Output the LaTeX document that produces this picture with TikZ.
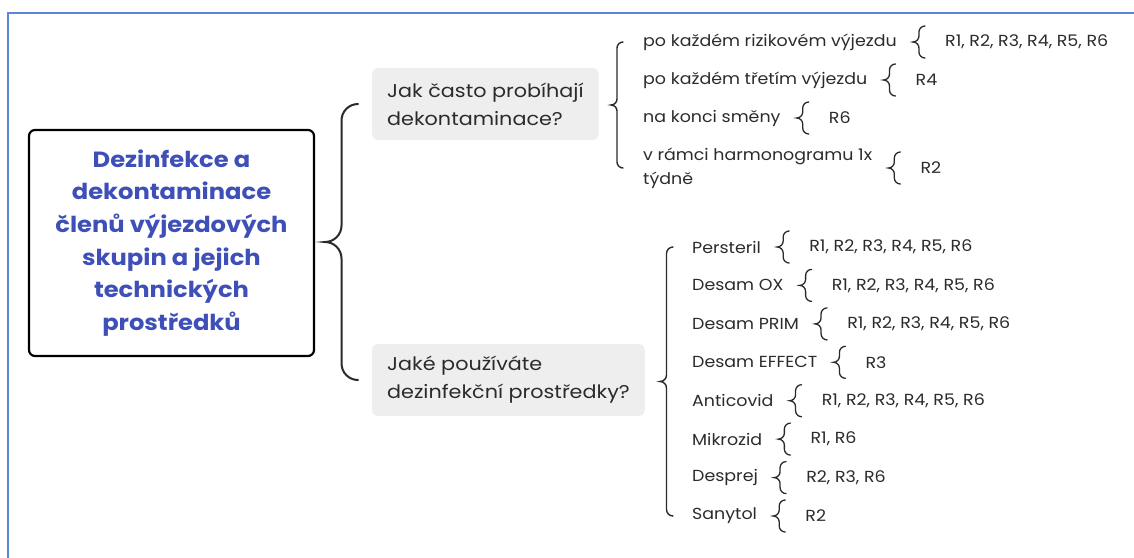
\documentclass[tikz,border=0pt]{standalone}
\usepackage{fontspec}
\setmainfont{Poppins}
\newfontfamily\rootfnt[FakeStretch=1.1]{Poppins}
\newfontfamily\qfnt[FakeStretch=1.12]{Poppins}
\newfontfamily\itfnt[FakeStretch=1.09]{Poppins}
\usetikzlibrary{calc}
\definecolor{frameblue}{HTML}{5B85D8}
\definecolor{rootblue}{HTML}{3F4FB8}
\definecolor{qgray}{HTML}{EEEEEE}
\definecolor{txt}{HTML}{2B2B2B}
\definecolor{brc}{HTML}{2A2A2A}
% curly brace: #1 top end, #2 bottom end, #3 curl radius, #4 style
\newcommand\curlybr[4]{%
  \draw[#4] (#1) .. controls +(-0.55*#3,0) and +(0,0.55*#3) .. ++(-#3,-#3)
    -- ($(#1)!0.5!(#2)+(-#3,#3)$)
    .. controls +(0,-0.55*#3) and +(0.55*#3,0) .. ($(#1)!0.5!(#2)+(-2*#3,0)$)
    .. controls +(0.55*#3,0) and +(0,0.55*#3) .. ($(#1)!0.5!(#2)+(-#3,-#3)$)
    -- ($(#2)+(-#3,#3)$)
    .. controls +(0,-0.55*#3) and +(-0.55*#3,0) .. (#2);}
\newcommand\sbrace[2]{%
  \coordinate (#1t) at ($(#1.east)+(28,16)$);
  \coordinate (#1b) at ($(#1.east)+(28,-16)$);
  \curlybr{#1t}{#1b}{6}{smallbr}
  \node[item] (#1r) at ($(#1.east)+(48,0)$) {#2};}
\begin{document}
\begin{tikzpicture}[x=1pt,y=1pt,
  root/.style={draw=black, line width=2.2pt, rounded corners=6pt,
    minimum width=285pt, minimum height=226pt, align=center, text=rootblue,
    font=\rootfnt\fontsize{22}{32.6}\selectfont\bfseries, inner sep=0pt},
  qbox/.style={fill=qgray, rounded corners=6pt, anchor=west, align=left,
    text=txt, font=\qfnt\fontsize{18.5}{28}\selectfont, inner xsep=15pt,
    inner ysep=0pt, minimum height=72pt},
  item/.style={anchor=west, inner sep=0pt, text=txt,
    font=\itfnt\fontsize{16}{24}\selectfont, align=left},
  bigbr/.style={draw=brc, line width=2pt, line cap=round},
  midbr/.style={draw=brc, line width=1.4pt, line cap=round},
  smallbr/.style={draw=brc, line width=1.3pt, line cap=round},
]
\useasboundingbox (0,0) rectangle (1134,-557);
% frame
\draw[frameblue, line width=1.6pt] (8,-570) -- (8,-13) -- (1150,-13);
% root
\node[root] (root) at (171.5,-243) {Dezinfekce a\\dekontaminace\\členů výjezdových\\skupin a jejich\\technických\\prostředků};
% questions
\node[qbox] (q1) at (372,-104) {Jak často probíhají\\dekontaminace?};
\node[qbox] (q2) at (372,-380) {Jaké používáte\\dezinfekční prostředky?};
\coordinate (bt) at ($(q1.west)+(-14,0)$);
\coordinate (bb) at ($(q2.west)+(-14,0)$);
\curlybr{bt}{bb}{16.5}{bigbr}
% group 1
\node[item] (a1) at (643,-42) {po každém rizikovém výjezdu};
\node[item] (a2) at (643,-80) {po každém třetím výjezdu};
\node[item] (a3) at (643,-118) {na konci směny};
\node[item] (a4) at (643,-168) {v rámci harmonogramu 1x\\týdně};
\coordinate (g1t) at ($(a1.west)+(-20,0)$);
\coordinate (g1b) at ($(a4.west)+(-20,0)$);
\curlybr{g1t}{g1b}{6}{midbr}
\sbrace{a1}{R1, R2, R3, R4, R5, R6}
\sbrace{a2}{R4}
\sbrace{a3}{R6}
\sbrace{a4}{R2}
% group 2
\node[item] (b1) at (692,-247) {Persteril};
\node[item] (b2) at (692,-285.4) {Desam OX};
\node[item] (b3) at (692,-323.9) {Desam PRIM};
\node[item] (b4) at (692,-362.3) {Desam EFFECT};
\node[item] (b5) at (692,-400.7) {Anticovid};
\node[item] (b6) at (692,-439.1) {Mikrozid};
\node[item] (b7) at (692,-477.6) {Desprej};
\node[item] (b8) at (692,-516) {Sanytol};
\coordinate (g2t) at ($(b1.west)+(-19,0)$);
\coordinate (g2b) at ($(b8.west)+(-19,0)$);
\curlybr{g2t}{g2b}{6.5}{midbr}
\sbrace{b1}{R1, R2, R3, R4, R5, R6}
\sbrace{b2}{R1, R2, R3, R4, R5, R6}
\sbrace{b3}{R1, R2, R3, R4, R5, R6}
\sbrace{b4}{R3}
\sbrace{b5}{R1, R2, R3, R4, R5, R6}
\sbrace{b6}{R1, R6}
\sbrace{b7}{R2, R3, R6}
\sbrace{b8}{R2}
\end{tikzpicture}
\end{document}
